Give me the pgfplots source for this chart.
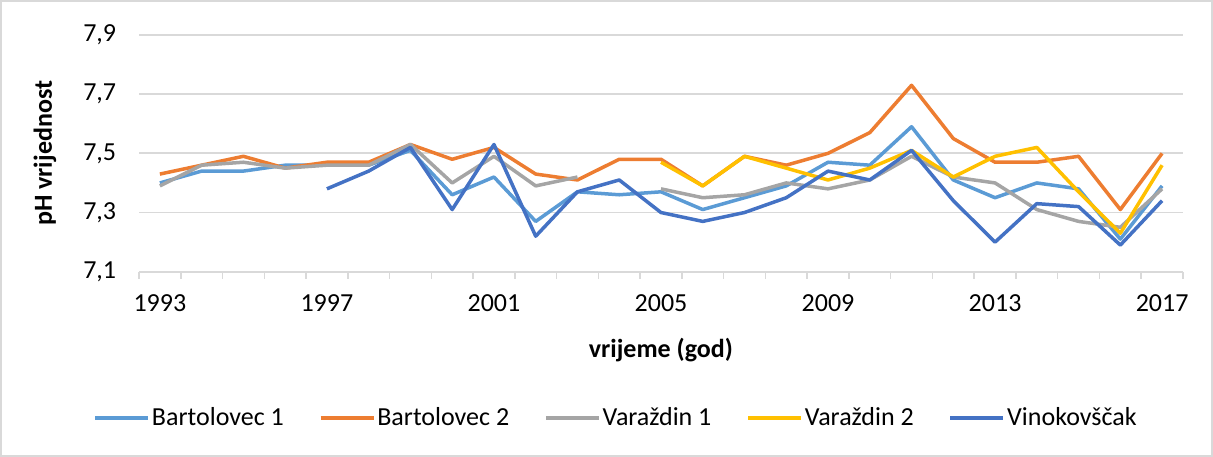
\documentclass[border=0pt]{standalone}
\usepackage{fontspec}
\setmainfont{Carlito}
\usepackage{pgfplots}
\usepackage{pgfplotstable}
\pgfplotsset{compat=1.18}
\definecolor{cBa}{HTML}{5B9BD5}
\definecolor{cBb}{HTML}{ED7D31}
\definecolor{cVa}{HTML}{A5A5A5}
\definecolor{cVb}{HTML}{FFC000}
\definecolor{cVin}{HTML}{4472C4}
\definecolor{gridc}{HTML}{D9D9D9}

\pgfplotstableread{
year B1   B2   V1   V2   Vin
1993 7.40 7.43 7.39 nan  nan
1994 7.44 7.46 7.46 nan  nan
1995 7.44 7.49 7.47 nan  nan
1996 7.46 7.45 7.45 nan  nan
1997 7.46 7.47 7.46 nan  7.38
1998 7.46 7.47 7.46 nan  7.44
1999 7.51 7.53 7.53 nan  7.52
2000 7.36 7.48 7.40 nan  7.31
2001 7.42 7.52 7.49 nan  7.53
2002 7.27 7.43 7.39 nan  7.22
2003 7.37 7.41 7.42 nan  7.37
2004 7.36 7.48 nan  nan  7.41
2005 7.37 7.48 7.38 7.47 7.30
2006 7.31 7.39 7.35 7.39 7.27
2007 7.35 7.49 7.36 7.49 7.30
2008 7.39 7.46 7.40 7.45 7.35
2009 7.47 7.50 7.38 7.41 7.44
2010 7.46 7.57 7.41 7.45 7.41
2011 7.59 7.73 7.49 7.51 7.51
2012 7.41 7.55 7.42 7.42 7.34
2013 7.35 7.47 7.40 7.49 7.20
2014 7.40 7.47 7.31 7.52 7.33
2015 7.38 7.49 7.27 7.37 7.32
2016 7.21 7.31 7.25 7.23 7.19
2017 7.39 7.50 7.38 7.46 7.34
}\datatable

\begin{document}
\fontsize{26}{31}\selectfont
\begin{tikzpicture}[x=1pt,y=1pt]
\useasboundingbox (0,0) rectangle (1213,457);
\draw[gridc, line width=1.5pt] (1,1) rectangle (1212,456);
\begin{axis}[
  at={(139pt,185.3pt)}, anchor=south west,
  scale only axis, width=1044pt, height=236.7pt,
  xmin=1992.5, xmax=2017.5, ymin=7.1, ymax=7.9,
  axis line style={draw=none},
  xtick={1993,1997,2001,2005,2009,2013,2017},
  xticklabels={1993,1997,2001,2005,2009,2013,2017},
  minor xtick={1992.5,1993.5,...,2017.5},
  ytick={7.1,7.3,7.5,7.7,7.9},
  yticklabels={{7,1},{7,3},{7,5},{7,7},{7,9}},
  xtick pos=bottom, tick align=outside,
  major tick length=0pt, minor tick length=7pt,
  minor tick style={gridc, line width=1.5pt},
  ytick style={draw=none},
  ymajorgrids, major grid style={gridc, line width=1.8pt},
  xticklabel style={yshift=-14pt},
  yticklabel style={xshift=-14pt},
  xlabel={\bfseries vrijeme (god)},
  ylabel={\bfseries pH vrijednost},
  xlabel style={at={(axis description cs:0.5,-0.33)}, anchor=center},
  ylabel style={at={(axis description cs:-0.09,0.5)}, anchor=center},
  unbounded coords=jump,
  legend columns=5,
  legend style={draw=none, fill=none, at={(0.457,-0.618)}, anchor=center,
    nodes={inner xsep=2pt},
    /tikz/every even column/.append style={column sep=33pt}},
  legend image code/.code={\draw[#1] (0pt,0pt) -- (53pt,0pt);},
  every axis plot/.append style={line width=3.5pt, line join=round},
]
\addplot[cBa] table[x=year,y=B1]{\datatable};
\addlegendentry{Bartolovec 1}
\addplot[cBb] table[x=year,y=B2]{\datatable};
\addlegendentry{Bartolovec 2}
\addplot[cVa] table[x=year,y=V1]{\datatable};
\addlegendentry{Varaždin 1}
\addplot[cVb] table[x=year,y=V2]{\datatable};
\addlegendentry{Varaždin 2}
\addplot[cVin] table[x=year,y=Vin]{\datatable};
\addlegendentry{Vinokovščak}
\end{axis}
\end{tikzpicture}
\end{document}
